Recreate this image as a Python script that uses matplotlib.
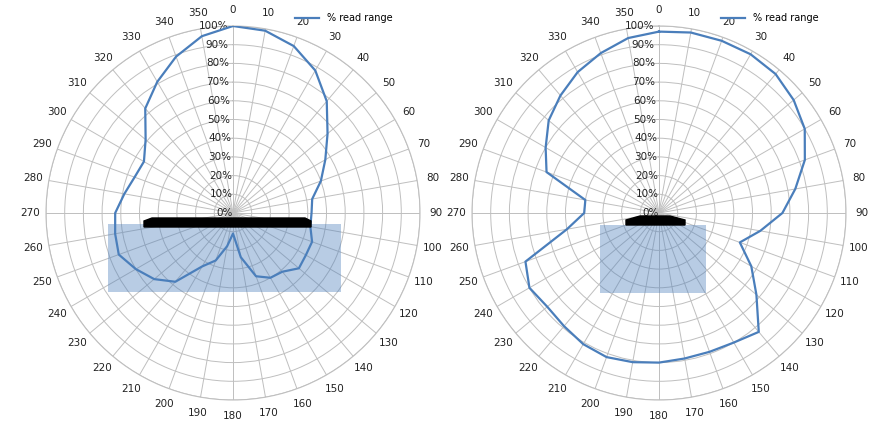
import numpy as np
import matplotlib.pyplot as plt
from matplotlib.patches import Rectangle, Polygon

angles = list(range(0, 360, 10))
left_range = [100, 99, 95, 88, 78, 66, 57, 50, 43, 42, 42, 45, 45, 46, 41, 40, 36, 24,
              11, 18, 27, 33, 48, 55, 60, 65, 64, 63, 59, 56, 55, 61, 73, 81, 89, 96]
right_range = [97, 98, 98, 98, 97, 94, 90, 83, 74, 66, 55, 46, 57, 68, 83, 80, 79, 79,
               80, 81, 82, 81, 79, 78, 80, 76, 50, 40, 40, 64, 70, 77, 82, 87, 91, 95]

W, H = 887, 448
R = 187
fig = plt.figure(figsize=(W / 100, H / 100), dpi=100)
blue = '#4a7ebb'


def px(x, y):
    return x / W, 1 - y / H


def polar_panel(cx, cy, values, shade, bar_poly):
    ax = fig.add_axes([(cx - R) / W, (H - cy - R) / H, 2 * R / W, 2 * R / H],
                      projection='polar')
    ax.set_theta_zero_location('N')
    ax.set_theta_direction(-1)
    th = np.deg2rad(angles + [angles[0]])
    ax.plot(th, values + [values[0]], color=blue, lw=1.6, zorder=5, label='% read range')
    ax.set_ylim(0, 100)
    ax.set_yticks(range(0, 101, 10))
    ax.set_yticklabels([])
    ax.set_xticks(np.deg2rad(angles))
    ax.set_xticklabels([str(a) for a in angles], fontsize=7.5, color='#222222')
    ax.tick_params(axis='x', pad=1)
    ax.grid(color='#bfbfbf', lw=0.7)
    ax.spines['polar'].set_color('#bfbfbf')
    for r in range(0, 101, 10):
        ax.text(np.deg2rad(-1.5), r, f'{r}%', fontsize=7.5, ha='right', va='center', color='#222222')
    ax.legend(loc='upper left', bbox_to_anchor=((cx + 58 - (cx - R)) / (2 * R), 1.045),
              frameon=False, fontsize=7, handlelength=2.5, borderaxespad=0)
    x0, y0, x1, y1 = shade
    fig.add_artist(Rectangle(px(x0, y1), (x1 - x0) / W, (y1 - y0) / H,
                             transform=fig.transFigure, color='#4f81bd', alpha=0.4,
                             lw=0, zorder=3))
    fig.add_artist(Polygon([px(x, y) for x, y in bar_poly], closed=True,
                           transform=fig.transFigure, color='black', zorder=6))
    return ax


polar_panel(233, 213, left_range, (108, 224, 341, 292),
            [(152, 218), (305, 218), (311, 221), (311, 227), (144, 227), (144, 221)])
polar_panel(659, 213, right_range, (600, 225, 706, 293),
            [(640, 216), (670, 216), (685, 220), (685, 225), (626, 225), (626, 220)])

fig.savefig('out.png', dpi=100)
